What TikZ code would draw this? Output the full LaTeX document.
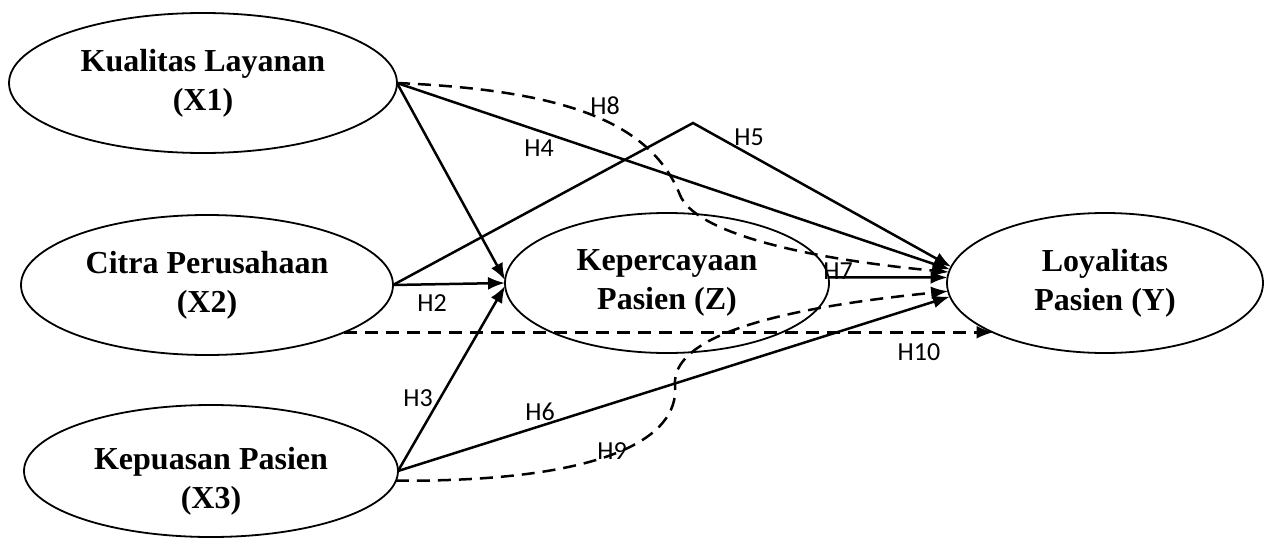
\documentclass[tikz,border=0pt]{standalone}
\usepackage{fontspec}
\setmainfont{Liberation Serif}
\newfontfamily\hypfont{Carlito}
\usetikzlibrary{arrows.meta,shapes.geometric}

\begin{document}
\begin{tikzpicture}[x=1pt,y=-1pt,
  construct/.style={ellipse,draw,line width=1.8pt,inner sep=0pt,outer sep=0pt,
    align=center,font=\fontsize{32}{39}\selectfont\bfseries},
  link/.style={line width=2.5pt,-{Latex[length=17pt,width=13pt]}},
  dlink/.style={link,dash pattern=on 13pt off 8pt},
  hyp/.style={font=\hypfont\fontsize{26}{26}\selectfont,inner sep=0pt}
]
\useasboundingbox (0,0) rectangle (1272,538);

% latent constructs
\node[construct,minimum width=388pt,minimum height=140pt] (X1) at (203,83) {Kualitas Layanan\\(X1)};
\node[construct,minimum width=372pt,minimum height=140pt] (X2) at (207,285) {Citra Perusahaan\\(X2)};
\node[construct,minimum width=374pt,minimum height=132pt] (X3) at (211,471) {\rule{0pt}{42pt}Kepuasan Pasien\\(X3)};
\node[construct,minimum width=324pt,minimum height=140pt] (Z) at (667,283) {Kepercayaan\\Pasien (Z)};
\node[construct,minimum width=316pt,minimum height=140pt] (Y) at (1105,283) {Loyalitas\\Pasien (Y)};

% bend points of the indirect paths
\coordinate (h5peak) at (693,123);
\coordinate (h8bend) at (680,195);
\coordinate (h9bend) at (675,385);

% direct paths to the mediator
\draw[link] (X1.east) -- (Z.179);
\draw[link] (X2.east) -- (Z.west);
\draw[link] (X3.east) -- (Z.181);

% direct paths to loyalty
\draw[link] (X1.east) -- (Y.175);
\draw[link] (X2.east) -- (h5peak) -- (Y.174);
\draw[link] (X3.east) -- (Y.185);
\draw[link] (Z.2) -- (Y.178);

% mediated paths
\draw[dlink] (X1.east) .. controls (560,90) and (650,120) .. (h8bend)
  .. controls (695,232) and (800,258) .. (Y.176);
\draw[dlink] (X3.-3.5) .. controls (600,482) and (680,440) .. (h9bend)
  .. controls (672,340) and (760,310) .. (Y.183);
\draw[dlink] (X2.-19.6) -- (X2.-19.6 -| Y.204.3);

% hypothesis labels
\node[hyp] (H2) at (432,303) {H2};
\node[hyp] (H3) at (418,398) {H3};
\node[hyp] (H4) at (539,148) {H4};
\node[hyp] (H5) at (749,137) {H5};
\node[hyp] (H6) at (540,412) {H6};
\node[hyp] (H7) at (838,271) {H7};
\node[hyp] (H8) at (605,106) {H8};
\node[hyp] (H9) at (612,451) {H9};
\node[hyp] (H10) at (919,352) {H10};
\end{tikzpicture}
\end{document}
